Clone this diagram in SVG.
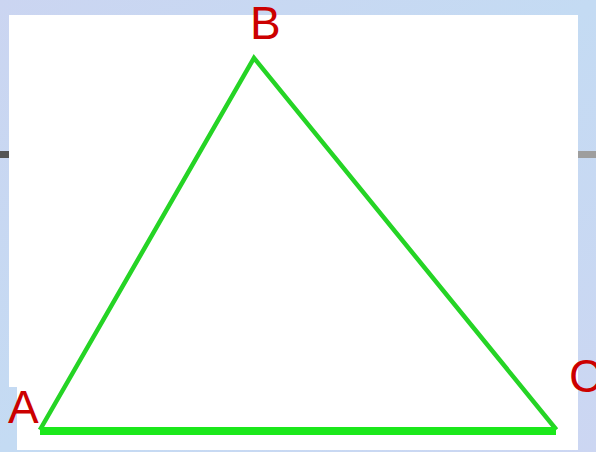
<svg xmlns="http://www.w3.org/2000/svg" width="596" height="452" viewBox="0 0 596 452">
  <defs>
    <linearGradient id="bg" x1="0" y1="0" x2="1" y2="1">
      <stop offset="0" stop-color="#cbd5f1"/>
      <stop offset="0.5" stop-color="#c4dbf3"/>
      <stop offset="1" stop-color="#ccd6f2"/>
    </linearGradient>
    <style>
      .side { stroke: #25d425; stroke-width: 4.5; fill: none; stroke-linecap: square; stroke-linejoin: miter; }
      .base { stroke: #1be81b; stroke-width: 8; fill: none; stroke-linecap: butt; }
      .lbl { font-family: "Liberation Sans", Arial, sans-serif; font-size: 46px; fill: #cc0000; }
    </style>
  </defs>
  <rect x="0" y="0" width="596" height="452" fill="url(#bg)"/>
  <rect x="0" y="151" width="9" height="7" fill="#555555"/>
  <rect x="578" y="151" width="18" height="7" fill="#9e9e9e"/>
  <rect x="9" y="15" width="569" height="372" fill="#ffffff"/>
  <rect x="17" y="15" width="561" height="435" fill="#ffffff"/>
  <g id="connectors">
    <path class="side" d="M 41 428 L 254 58 L 555 428"/>
    <line class="base" x1="40" y1="431" x2="556" y2="431"/>
  </g>
  <g id="A"><text class="lbl" x="8" y="423">A</text></g>
  <g id="B"><text class="lbl" x="250" y="39">B</text></g>
  <g id="C"><text class="lbl" x="569" y="392">C</text></g>
</svg>
